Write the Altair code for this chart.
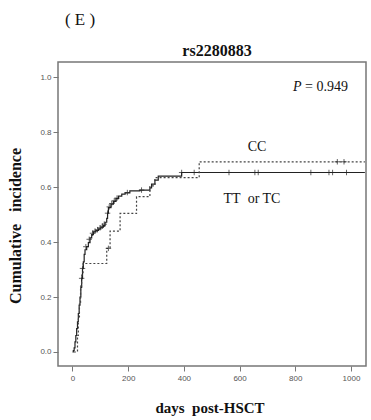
import altair as alt
import pandas as pd

# TT or TC (solid) step curve
tt_days = [0, 3, 6, 9, 12, 15, 18, 21, 24, 27, 30, 33, 36, 39, 42, 45, 51, 57, 63, 69, 75, 84, 93, 102, 111,
           117, 123, 126, 129, 138, 147, 156, 165, 177, 189, 206, 242, 278, 284, 296, 308, 392, 1050]
tt_inc = [0.0, 0.005, 0.015, 0.037, 0.06, 0.085, 0.11, 0.14, 0.17, 0.20, 0.235, 0.268, 0.304, 0.328, 0.355,
          0.372, 0.383, 0.398, 0.415, 0.427, 0.437, 0.442, 0.448, 0.454, 0.46, 0.472, 0.486, 0.505, 0.525,
          0.538, 0.548, 0.558, 0.567, 0.574, 0.579, 0.586, 0.589, 0.597, 0.611, 0.625, 0.64, 0.653, 0.653]

# CC (dashed) step curve
cc_days = [5, 15, 18, 21, 25, 29, 33, 38, 123, 135, 171, 230, 278, 296, 455, 1050]
cc_inc = [0.0, 0.0, 0.06, 0.12, 0.18, 0.24, 0.28, 0.322, 0.377, 0.44, 0.504, 0.565, 0.604, 0.634, 0.692, 0.692]

# censor marks
tt_cens_days = [33, 36, 48, 60, 72, 81, 90, 99, 108, 114, 126, 132, 141, 150, 160, 197, 248,
                392, 437, 562, 655, 667, 856, 921, 934, 984]
tt_cens_inc = [0.268, 0.304, 0.383, 0.41, 0.432, 0.44, 0.445, 0.452, 0.458, 0.465, 0.505, 0.528, 0.54,
               0.55, 0.56, 0.58, 0.589, 0.653, 0.653, 0.653, 0.653, 0.653, 0.653, 0.653, 0.653, 0.653]
cc_cens_days = [129, 951, 975]
cc_cens_inc = [0.377, 0.692, 0.692]

x_ticks = [0, 200, 400, 600, 800, 1000]
y_ticks = [0.0, 0.2, 0.4, 0.6, 0.8, 1.0]

tt = pd.DataFrame({"days": tt_days, "inc": tt_inc})
cc = pd.DataFrame({"days": cc_days, "inc": cc_inc})
cens = pd.DataFrame({"days": tt_cens_days + cc_cens_days, "inc": tt_cens_inc + cc_cens_inc})

xs = alt.Scale(domain=[-52, 1054], nice=False, zero=False)
ys = alt.Scale(domain=[-0.051, 1.055], nice=False, zero=False)

X = alt.X("days:Q", scale=xs,
          axis=alt.Axis(values=x_ticks, format="d", title=None, domain=False, grid=False, tickSize=5,
                        tickColor="#777", tickWidth=1, labelColor="#555", labelFontSize=8,
                        labelFont="Liberation Sans", labelPadding=3))
Y = alt.Y("inc:Q", scale=ys,
          axis=alt.Axis(values=y_ticks, format=".1f", title=None, domain=False, grid=False, tickSize=5,
                        tickColor="#777", tickWidth=1, labelColor="#555", labelFontSize=8,
                        labelFont="Liberation Sans", labelPadding=2))

solid = alt.Chart(tt).mark_line(interpolate="step-after", color="#222", strokeWidth=1.2).encode(x=X, y=Y)
dashed = alt.Chart(cc).mark_line(interpolate="step-after", color="#444", strokeWidth=1.2,
                                 strokeDash=[2, 2]).encode(x="days:Q", y="inc:Q")
marks = alt.Chart(cens).mark_point(shape="M-1,0L1,0M0,-1L0,1", size=30, color="#222", strokeWidth=1,
                                   filled=False).encode(x="days:Q", y="inc:Q")

one = pd.DataFrame({"a": [0]})
serif = "Liberation Serif"
NB = "\u00a0"


def txt(text, x, y, size, bold=False, italic=False, align="center", angle=0):
    kw = dict(text=text, font=serif, fontSize=size, align=align, baseline="middle",
              color="#111", angle=angle)
    if bold:
        kw["fontWeight"] = "bold"
    if italic:
        kw["fontStyle"] = "italic"
    return alt.Chart(one).mark_text(**kw).encode(x=alt.value(x), y=alt.value(y))


texts = [
    txt("(" + NB + "E" + NB + ")", 22, -42, 17),
    txt("rs2280883", 159, -11, 16, bold=True),
    txt("P", 235, 25, 14, italic=True, align="left"),
    txt("= 0.949", 247, 25, 14, align="left"),
    txt("CC", 199, 85, 14),
    txt("TT" + NB + NB + "or TC", 194, 137, 14),
    txt("Cumulative" + NB + NB + NB + "incidence", -42, 164, 16, bold=True, angle=270),
    txt("days" + NB + NB + "post-HSCT", 152, 346, 15, bold=True),
]

chart = alt.layer(solid, dashed, marks, *texts).properties(
    width=308, height=304,
    autosize=alt.AutoSizeParams(type="none"),
    padding={"left": 58, "top": 62, "right": 5, "bottom": 54},
    background="white",
).configure_view(stroke="#777", strokeWidth=1.5)

chart.save("out.html", embed_options={"renderer": "svg", "actions": False})
